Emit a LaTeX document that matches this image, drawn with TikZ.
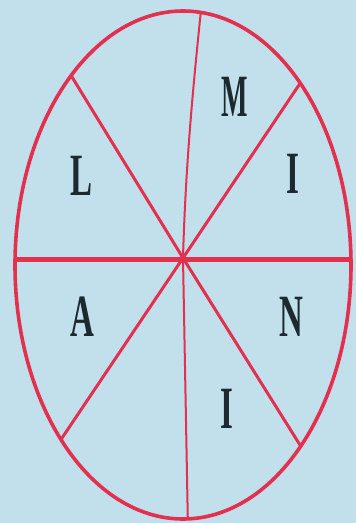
\documentclass[tikz,border=0pt]{standalone}
\usepackage{fontspec}
\setmainfont{Liberation Serif}
\usetikzlibrary{calc}
\definecolor{bgblue}{HTML}{C2E0EC}
\definecolor{penred}{HTML}{E2304E}
\definecolor{ink}{HTML}{1C2A30}
\tikzset{
  rim/.style={draw=penred, line width=3.6pt},
  spoke/.style={draw=penred, line width=3pt, line cap=round},
  thinspoke/.style={draw=penred, line width=2pt},
  letter/.style={text=ink, font=\fontsize{60}{60}\selectfont\bfseries, xscale=0.55, inner sep=0pt}
}
\begin{document}
\begin{tikzpicture}[x=1pt,y=-1pt]
\fill[bgblue] (0,0) rectangle (356,523);
\useasboundingbox (0,0) rectangle (356,523);
\coordinate (c) at (183,258);
\begin{scope}
  \clip (183,265) ellipse [x radius=168, y radius=254];
  \draw[spoke, line width=5pt] (0,259) -- (356,259);
  \draw[spoke] (c) -- ($(c)!3!(72,77)$);
  \draw[spoke] (c) -- ($(c)!3!(305,76)$);
  \draw[spoke] (c) -- ($(c)!3!(62,438)$);
  \draw[spoke] (c) -- ($(c)!3!(300,445)$);
  \draw[thinspoke] (c) .. controls (186,150) and (196,60) .. (202,0);
  \draw[thinspoke] (c) -- (188,530);
\end{scope}
\draw[rim] (183,265) ellipse [x radius=168, y radius=254];
\node[letter, xscale=0.85] (m) at (235,97) {M};
\node[letter] (i1) at (293,174) {I};
\node[letter] (l) at (82,176) {L};
\node[letter] (a) at (82,317) {A};
\node[letter] (n) at (291,317) {N};
\node[letter] (i2) at (227,409) {I};
\end{tikzpicture}
\end{document}
